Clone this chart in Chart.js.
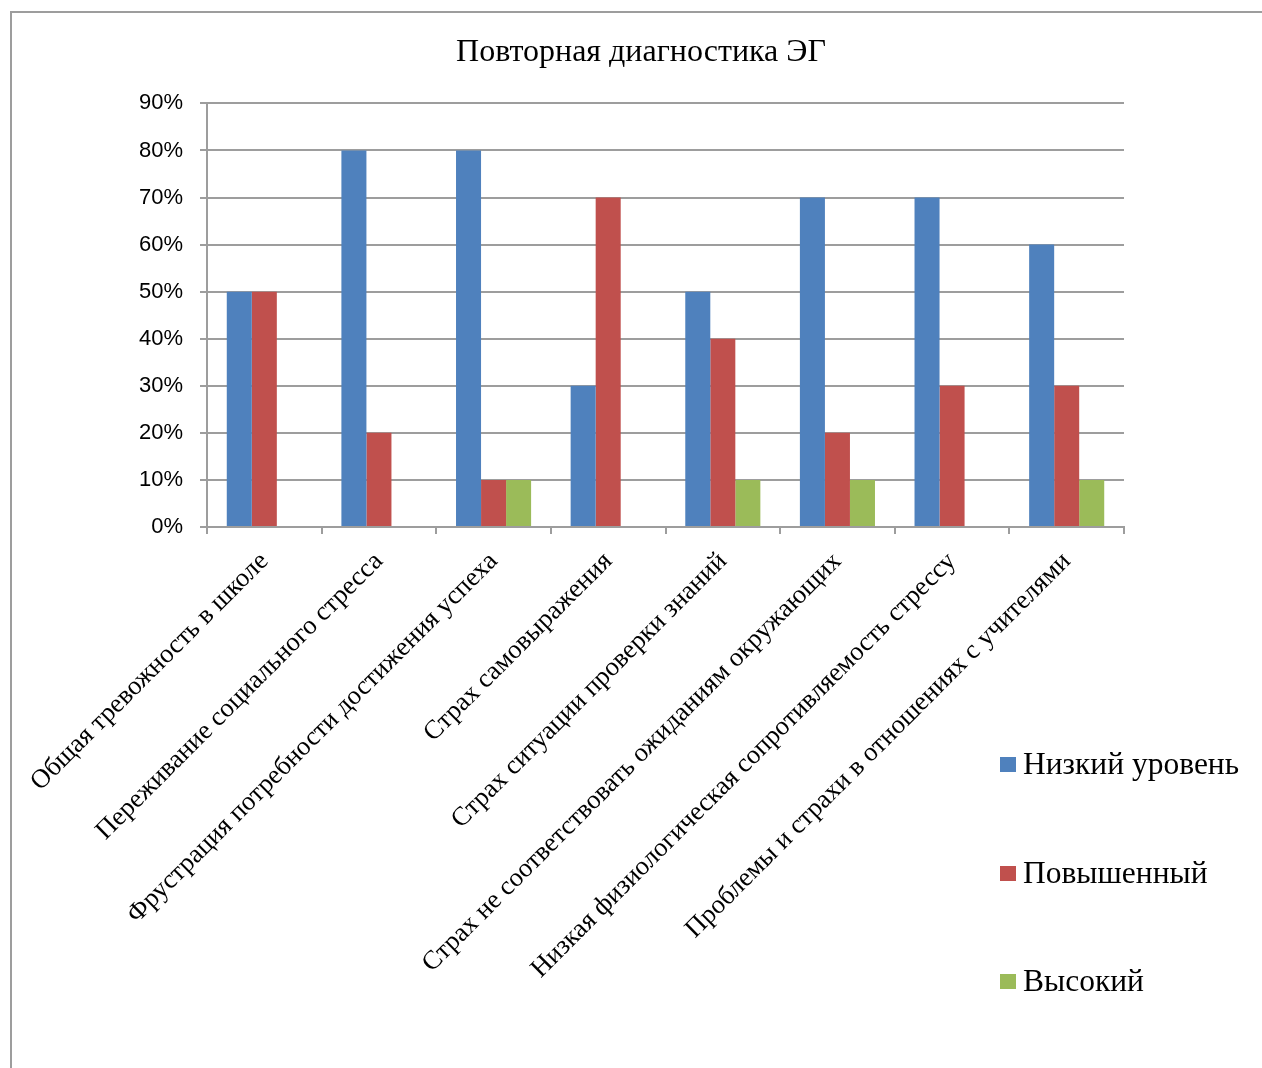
<!DOCTYPE html>
<html lang="ru">
<head>
<meta charset="utf-8">
<title>Повторная диагностика ЭГ</title>
<script src="https://cdn.jsdelivr.net/npm/chart.js@4/dist/chart.umd.min.js"></script>
<style>
  html, body { margin: 0; padding: 0; background: #fff; }
  #wrap { position: relative; width: 1262px; height: 1068px; overflow: hidden; }
  #frame { position: absolute; left: 10px; top: 11px; width: 1300px; height: 1100px;
           border-left: 2px solid #9d9d9d; border-top: 2px solid #9d9d9d; }
  canvas { position: absolute; left: 0; top: 0; }
  #legend { position: absolute; left: 1000px; top: 0; font-family: "Liberation Serif", "Times New Roman", serif; font-size: 31.5px; color: #000; }
  .item { position: absolute; left: 0; white-space: nowrap; display: flex; align-items: center; }
  .box { width: 16px; height: 15px; margin-right: 7px; }
</style>
</head>
<body>
<div id="wrap">
  <div id="frame"></div>
  <canvas id="chart" width="1262" height="1068"></canvas>
  <div id="legend"></div>
</div>
<script>
const categories = [
  'Общая тревожность в школе',
  'Переживание социального стресса',
  'Фрустрация потребности достижения успеха',
  'Страх самовыражения',
  'Страх ситуации проверки знаний',
  'Страх не соответствовать ожиданиям окружающих',
  'Низкая физиологическая сопротивляемость стрессу',
  'Проблемы и страхи в отношениях с учителями'
];
const seriesNames = ['Низкий уровень', 'Повышенный', 'Высокий'];
const lowLevel = [50, 80, 80, 30, 50, 70, 70, 60];
const raisedLevel = [50, 20, 10, 70, 40, 20, 30, 30];
const highLevel = [0, 0, 10, 0, 10, 10, 0, 10];
const colors = ['#4f81bd', '#c0504d', '#9bbb59'];

const GRID = '#9d9d9d';
const serif = '"Liberation Serif", "Times New Roman", serif';
const sans = '"Liberation Sans", Arial, sans-serif';

const values = [lowLevel, raisedLevel, highLevel];
const datasets = seriesNames.map((name, i) => ({
  label: name,
  data: values[i],
  backgroundColor: colors[i],
  borderWidth: 0,
  categoryPercentage: 0.655,
  barPercentage: 1.0
}));

new Chart(document.getElementById('chart'), {
  type: 'bar',
  data: { labels: categories, datasets },
  options: {
    responsive: false,
    animation: false,
    layout: { padding: { left: 20, right: 0, top: 0, bottom: 0 } },
    plugins: {
      legend: { display: false },
      tooltip: { enabled: false },
      title: {
        display: true,
        text: 'Повторная диагностика ЭГ',
        color: '#000',
        font: { family: serif, size: 32, weight: 'normal' },
        padding: { top: 33, bottom: 32 }
      }
    },
    scales: {
      x: {
        offset: true,
        grid: { offset: true, drawOnChartArea: false, drawTicks: true, tickLength: 7, color: GRID, lineWidth: 2 },
        border: { color: GRID, width: 2 },
        ticks: {
          autoSkip: false, minRotation: 45, maxRotation: 45, padding: 12,
          color: '#000', font: { family: serif, size: 26.6 }
        },
        afterFit: s => { s.height = 1068 - 527; }
      },
      y: {
        min: 0, max: 90,
        grid: { color: GRID, lineWidth: 2, tickLength: 7 },
        border: { color: GRID, width: 2 },
        ticks: {
          stepSize: 10, padding: 17,
          color: '#000', font: { family: sans, size: 22 },
          callback: v => v + '%'
        },
        afterFit: s => { s.width = 187; }
      },
      // empty right-hand strip so the plot stops short of the page edge
      spacer: {
        position: 'right',
        min: 0, max: 1,
        grid: { display: false, drawTicks: false },
        border: { display: false },
        ticks: { display: false },
        afterFit: s => { s.width = 138; }
      }
    }
  }
});

// legend stacked beside the lower part of the plot
const legendEl = document.getElementById('legend');
const legendTops = [764, 873, 981];
seriesNames.forEach((name, i) => {
  const item = document.createElement('div');
  item.className = 'item';
  item.style.top = (legendTops[i] - 18) + 'px';
  item.style.height = '36px';
  item.innerHTML = `<span class="box" style="background:${colors[i]}"></span><span>${name}</span>`;
  legendEl.appendChild(item);
});
</script>
</body>
</html>
